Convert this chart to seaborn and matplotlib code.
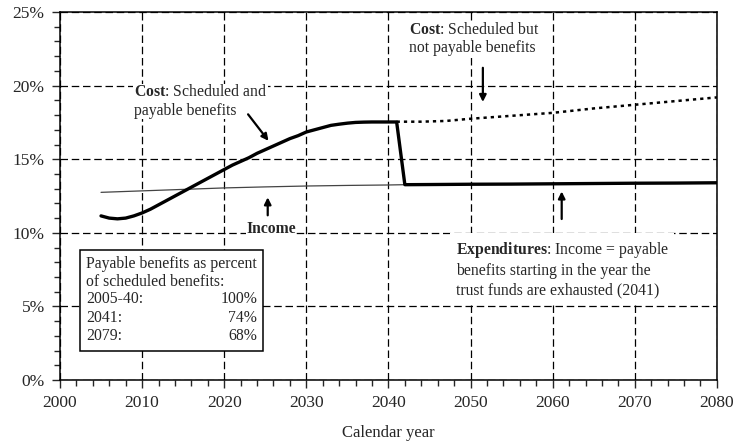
import numpy
import pandas
import seaborn
import matplotlib
matplotlib.use('Agg')
import matplotlib.pyplot as plt
from matplotlib.patches import Rectangle
from matplotlib.ticker import MultipleLocator, FuncFormatter

seaborn.set_style('white')
plt.rcParams['font.family'] = ['Liberation Serif', 'DejaVu Serif']
plt.rcParams['mathtext.fontset'] = 'custom'
plt.rcParams['mathtext.rm'] = 'Liberation Serif'
plt.rcParams['mathtext.bf'] = 'Liberation Serif:bold'

# cost (scheduled and payable) 2005-2041, percent of taxable payroll
cost_years = list(range(2005, 2042))
cost_vals = [11.15, 11.0, 10.95, 11.0, 11.15, 11.35, 11.6, 11.9, 12.2, 12.5,
             12.8, 13.1, 13.4, 13.7, 14.0, 14.3, 14.6, 14.85, 15.1, 15.4,
             15.65, 15.9, 16.15, 16.4, 16.6, 16.85, 17.0, 17.15, 17.3, 17.38,
             17.45, 17.5, 17.52, 17.53, 17.53, 17.53, 17.53]

# income rate 2005-2080
income_years = [2005, 2010, 2015, 2020, 2025, 2030, 2035, 2040, 2042, 2045,
                2050, 2055, 2060, 2065, 2070, 2075, 2080]
income_vals = [12.75, 12.85, 12.95, 13.05, 13.12, 13.18, 13.22, 13.25, 13.27, 13.28,
               13.3, 13.31, 13.33, 13.35, 13.37, 13.38, 13.4]

# scheduled but not payable cost 2041-2080
sched_years = [2041, 2044, 2047, 2050, 2055, 2060, 2065, 2070, 2075, 2080]
sched_vals = [17.55, 17.55, 17.6, 17.75, 17.95, 18.15, 18.45, 18.7, 18.95, 19.2]

box_labels = ['2005-40:', '2041:', '2079:']
box_values = ['100%', '74%', '68%']

income = pandas.DataFrame({'year': income_years, 'rate': income_vals})
cost = pandas.DataFrame({'year': cost_years, 'rate': cost_vals})
sched = pandas.DataFrame({'year': sched_years, 'rate': sched_vals})
# expenditures: cost until exhaustion, then income
expend = pandas.concat([cost, income[income['year'] >= 2042]], ignore_index=True)

fig = plt.figure(figsize=(7.34, 4.45), dpi=100)
ax = fig.add_axes([0.0817, 0.146, 0.895, 0.827])

seaborn.lineplot(data=income, x='year', y='rate', color='#444444', lw=0.9, ax=ax, zorder=3)
seaborn.lineplot(data=sched, x='year', y='rate', color='black', lw=1.8,
                 linestyle=(0, (1.3, 1.6)), ax=ax, zorder=3)
seaborn.lineplot(data=expend, x='year', y='rate', color='black', lw=2.4, ax=ax,
                 zorder=4, sort=False)

ax.set_xlim(2000, 2080)
ax.set_ylim(0, 25)
ax.xaxis.set_major_locator(MultipleLocator(10))
ax.xaxis.set_minor_locator(MultipleLocator(2))
ax.yaxis.set_major_locator(MultipleLocator(5))
ax.yaxis.set_minor_locator(MultipleLocator(1))
ax.yaxis.set_major_formatter(FuncFormatter(lambda v, p: '{:.0f}%'.format(v)))
ax.tick_params(which='major', direction='out', length=6, width=1, labelsize=12.5,
               bottom=True, left=True, pad=5)
ax.tick_params(which='minor', direction='out', length=4, width=1, bottom=True, left=True)
ax.grid(True, which='major', color='black', lw=0.9, linestyle=(0, (6, 3)))
for s in ax.spines.values():
    s.set_color('black')
    s.set_linewidth(1.1)
ax.set_xlabel('Calendar year', fontsize=12, labelpad=10)
ax.set_ylabel('')
ax.set_axisbelow(True)

fs = 11.3
ax.text(2009.0, 20.1, '$\\mathbf{Cost}$: Scheduled and\npayable benefits', fontsize=fs,
        va='top', ha='left', linespacing=1.2, zorder=5,
        bbox=dict(fc='white', ec='none', pad=0.5))
ax.annotate('', xy=(2025.6, 16.1), xytext=(2022.7, 18.2),
            arrowprops=dict(arrowstyle='-|>', color='black', lw=1.6, mutation_scale=10), zorder=6)

ax.text(2025.7, 10.25, 'Income', fontsize=fs, fontweight='bold', ha='center', va='center',
        zorder=5, bbox=dict(fc='white', ec='none', pad=0.5))
ax.annotate('', xy=(2025.3, 12.6), xytext=(2025.3, 11.0),
            arrowprops=dict(arrowstyle='-|>', color='black', lw=1.6, mutation_scale=10), zorder=6)

ax.text(2042.5, 24.35, '$\\mathbf{Cost}$: Scheduled but\nnot payable benefits', fontsize=fs,
        va='top', ha='left', linespacing=1.2, zorder=5,
        bbox=dict(fc='white', ec='none', pad=0.5))
ax.annotate('', xy=(2051.5, 18.7), xytext=(2051.5, 21.4),
            arrowprops=dict(arrowstyle='-|>', color='black', lw=1.6, mutation_scale=10), zorder=6)

ax.text(2048.2, 9.5, '$\\mathbf{Expenditures}$: Income = payable\nbenefits starting in the year the\n'
        'trust funds are exhausted (2041)', fontsize=fs, va='top', ha='left', linespacing=1.25,
        zorder=5, bbox=dict(boxstyle='square,pad=0.35', fc='white', ec='none'))
ax.annotate('', xy=(2061.1, 13.0), xytext=(2061.1, 10.75),
            arrowprops=dict(arrowstyle='-|>', color='black', lw=1.6, mutation_scale=10), zorder=6)

ax.add_patch(Rectangle((2002.5, 2.0), 22.2, 6.83, fc='white', ec='black', lw=1.1, zorder=5))
ax.text(2003.2, 7.9, 'Payable benefits as percent', fontsize=fs, va='center', ha='left', zorder=6)
ax.text(2003.2, 6.68, 'of scheduled benefits:', fontsize=fs, va='center', ha='left', zorder=6)
for i, (lab, val) in enumerate(zip(box_labels, box_values)):
    yy = 5.48 - i * 1.24
    ax.text(2003.2, yy, lab, fontsize=fs, va='center', ha='left', zorder=6)
    ax.text(2024.0, yy, val, fontsize=fs, va='center', ha='right', zorder=6)

fig.savefig('out.png', dpi=100)
